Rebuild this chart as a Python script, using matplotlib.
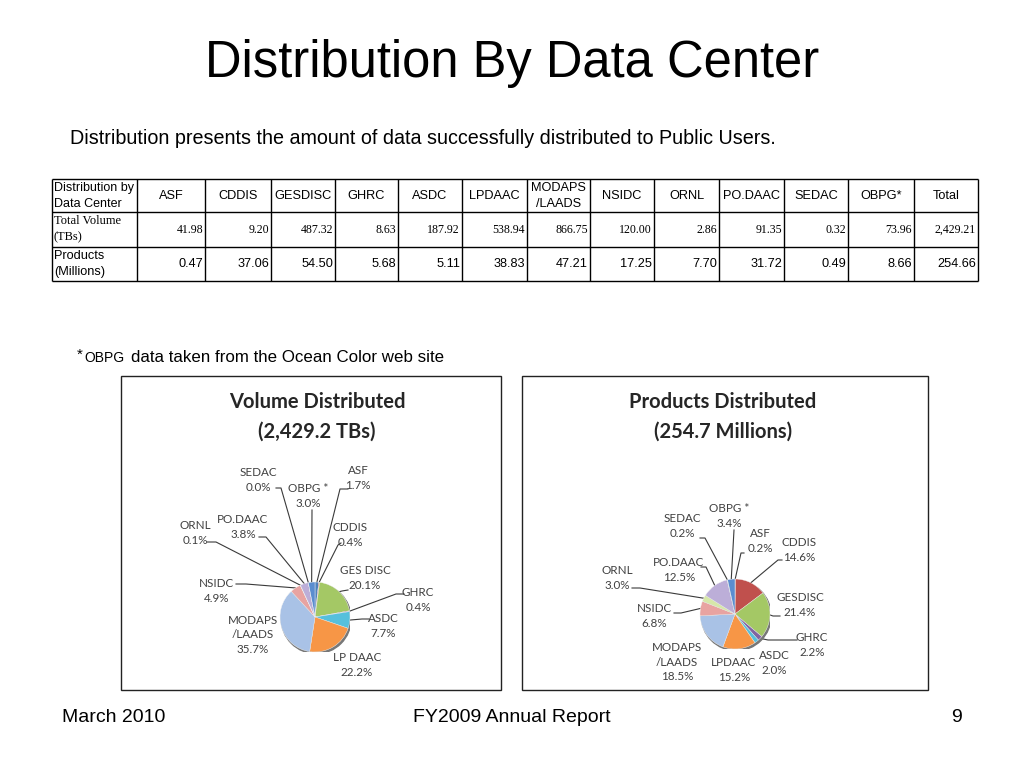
import math
import matplotlib
matplotlib.use("Agg")
import matplotlib.pyplot as plt
from matplotlib.patches import Rectangle, Circle

# ---------------- data ----------------
centers = ["ASF", "CDDIS", "GESDISC", "GHRC", "ASDC", "LPDAAC", "MODAPS\n/LAADS",
           "NSIDC", "ORNL", "PO.DAAC", "SEDAC", "OBPG*"]
volume_tb = [41.98, 9.20, 487.32, 8.63, 187.92, 538.94, 866.75, 120.00, 2.86, 91.35, 0.32, 73.96]
products_m = [0.47, 37.06, 54.50, 5.68, 5.11, 38.83, 47.21, 17.25, 7.70, 31.72, 0.49, 8.66]
total_volume = 2429.21
total_products = 254.66
vol_pie_labels = ["ASF", "CDDIS", "GES DISC", "GHRC", "ASDC", "LP DAAC", "MODAPS\n/LAADS",
                  "NSIDC", "ORNL", "PO.DAAC", "SEDAC", "OBPG *"]
prod_pie_labels = ["ASF", "CDDIS", "GESDISC", "GHRC", "ASDC", "LPDAAC", "MODAPS\n/LAADS",
                   "NSIDC", "ORNL", "PO.DAAC", "SEDAC", "OBPG *"]

# ---------------- styles ----------------
slice_colors = ["#4F81BD", "#C0504D", "#A4C865", "#8064A2", "#56C0DC", "#F79646",
                "#A9C2E6", "#E8A3A1", "#D6E7A9", "#BCAED8", "#9ED6E6", "#5B8DD0"]
SANS = ["Liberation Sans", "DejaVu Sans"]
SERIF = ["Liberation Serif", "DejaVu Serif"]
LBL = ["Lato", "DejaVu Sans"]
LBL_COLOR = "#404040"

W, H = 1024, 768
fig = plt.figure(figsize=(W / 100, H / 100), dpi=100)
bg = fig.add_axes([0, 0, 1, 1])
bg.set_xlim(0, W)
bg.set_ylim(H, 0)
bg.axis("off")

# ---------------- titles ----------------
bg.text(512, 64, "Distribution By Data Center", ha="center", va="center",
        fontsize=36.5, family=SANS, color="black")
bg.text(70, 138, "Distribution presents the amount of data successfully distributed to Public Users.",
        ha="left", va="center", fontsize=14.2, family=SANS, color="black")

# ---------------- table ----------------
col_edges = [52, 137, 205, 271, 335, 398, 462, 527, 590, 654, 719, 784, 848, 914, 978]
row_edges = [179, 212, 247, 281]
for x in col_edges:
    bg.plot([x, x], [row_edges[0], row_edges[-1]], color="black", lw=1.0, solid_capstyle="butt")
for y in row_edges:
    bg.plot([col_edges[0], col_edges[-1]], [y, y], color="black", lw=1.0, solid_capstyle="butt")

bg.text(col_edges[0] + 2, 196, "Distribution by\nData Center", ha="left", va="center",
        fontsize=9.0, family=SANS, linespacing=1.4)
bg.text(col_edges[0] + 2, 229.5, "Total Volume\n(TBs)", ha="left", va="center",
        fontsize=9, family=SERIF, linespacing=1.45)
bg.text(col_edges[0] + 2, 264, "Products\n(Millions)", ha="left", va="center",
        fontsize=9.2, family=SANS, linespacing=1.4)
headers = centers + ["Total"]
vols = volume_tb + [total_volume]
prods = products_m + [total_products]
for i, (h, v, p) in enumerate(zip(headers, vols, prods)):
    xl, xr = col_edges[i + 1], col_edges[i + 2]
    bg.text((xl + xr) / 2, 196, h, ha="center", va="center", fontsize=9.2,
            family=SANS, linespacing=1.4)
    bg.text(xr - 2, 230, f"{v:,.2f}", ha="right", va="center", fontsize=8.6, family=SERIF)
    bg.text(xr - 2, 264, f"{p:,.2f}", ha="right", va="center", fontsize=9.2, family=SANS)

# ---------------- footnote ----------------
bg.text(77, 355, "*", ha="left", va="center", fontsize=11, family=SANS)
bg.text(84, 358, "OBPG", ha="left", va="center", fontsize=10, family=SANS)
bg.text(131, 357, "data taken from the Ocean Color web site", ha="left", va="center",
        fontsize=12.2, family=SANS)

# ---------------- boxes ----------------
for (x0, y0, x1, y1) in [(121, 376, 501, 690), (522, 376, 928, 690)]:
    bg.add_patch(Rectangle((x0, y0), x1 - x0, y1 - y0, fill=False, ec="#222222", lw=1.0))

# ---------------- pies ----------------
def draw_pie(cx, cy, r, values, labels, title1, title2, tx, layout):
    ax = fig.add_axes([(cx - r) / W, (H - cy - r) / H, 2 * r / W, 2 * r / H])
    ax.add_patch(Circle((0.035, -0.05), 1.0, color="#777777", zorder=0))
    wedges, _ = ax.pie(values, colors=slice_colors, startangle=90, counterclock=False,
                       radius=1.0, wedgeprops=dict(linewidth=0.3, edgecolor="#f4f4f4"))
    ax.set_xlim(-1, 1)
    ax.set_ylim(-1, 1)
    ax.axis("off")
    bg.text(tx, 402, title1, ha="center", va="center", fontsize=14.5, fontweight="bold",
            family=LBL, color="#262626")
    bg.text(tx, 432, title2, ha="center", va="center", fontsize=14.5, fontweight="bold",
            family=LBL, color="#262626")
    total = sum(values)
    inv = bg.transData.inverted()
    for w, lab, v, (lx, ly, pts) in zip(wedges, labels, values, layout):
        bg.text(lx, ly, f"{lab}\n{100 * v / total:.1f}%", ha="center", va="center",
                fontsize=8.4, family=LBL, color=LBL_COLOR, linespacing=1.42)
        if pts:
            mid = math.radians((w.theta1 + w.theta2) / 2)
            ex, ey = inv.transform(ax.transData.transform((math.cos(mid), math.sin(mid))))
            xs = [p[0] for p in pts] + [ex]
            ys = [p[1] for p in pts] + [ey]
            bg.plot(xs, ys, color="#3a3a3a", lw=0.8)

# label layout: (label centre x, y, leader start points) in pixels
vol_layout = [
    (358, 478, [(348, 489), (340, 489)]),      # ASF
    (350, 535, [(341, 543), (338, 545)]),      # CDDIS
    (365, 578, [(348, 590), (342, 591)]),      # GESDISC
    (418, 600, [(404, 594), (396, 594)]),      # GHRC
    (383, 626, [(369, 619), (362, 619)]),      # ASDC
    (357, 665, []),                            # LPDAAC
    (253, 635, []),                            # MODAPS
    (217, 591, [(236, 584), (246, 584)]),      # NSIDC
    (195, 533, [(207, 542), (216, 542)]),      # ORNL
    (243, 527, [(259, 537), (266, 537)]),      # PO.DAAC
    (258, 480, [(276, 488), (281, 488)]),      # SEDAC
    (308, 496, [(312, 510)]),                  # OBPG
]
prod_layout = [
    (760, 541, [(744, 553), (741, 553)]),      # ASF
    (799, 550, [(782, 560), (778, 560)]),      # CDDIS
    (800, 605, [(780, 616), (773, 616)]),      # GESDISC
    (812, 645, [(797, 640), (768, 640)]),      # GHRC
    (774, 663, []),                            # ASDC
    (734, 670, []),                            # LPDAAC
    (677, 662, []),                            # MODAPS
    (654, 616, [(674, 613), (681, 613)]),      # NSIDC
    (617, 578, [(632, 588), (640, 588)]),      # ORNL
    (679, 570, [(701, 567), (706, 567)]),      # PO.DAAC
    (682, 526, [(700, 538), (705, 538)]),      # SEDAC
    (729, 516, [(734, 530)]),                  # OBPG
]

draw_pie(315, 617, 35, volume_tb, vol_pie_labels, "Volume Distributed",
         f"({total_volume:,.1f} TBs)", 317, vol_layout)
draw_pie(735, 614, 35, products_m, prod_pie_labels, "Products Distributed",
         f"({total_products:,.1f} Millions)", 723, prod_layout)

# ---------------- footer ----------------
bg.text(62, 717, "March 2010", ha="left", va="center", fontsize=14, family=SANS)
bg.text(512, 717, "FY2009 Annual Report", ha="center", va="center", fontsize=14, family=SANS)
bg.text(957, 717, "9", ha="center", va="center", fontsize=14, family=SANS)

fig.savefig("out.png", dpi=100)
